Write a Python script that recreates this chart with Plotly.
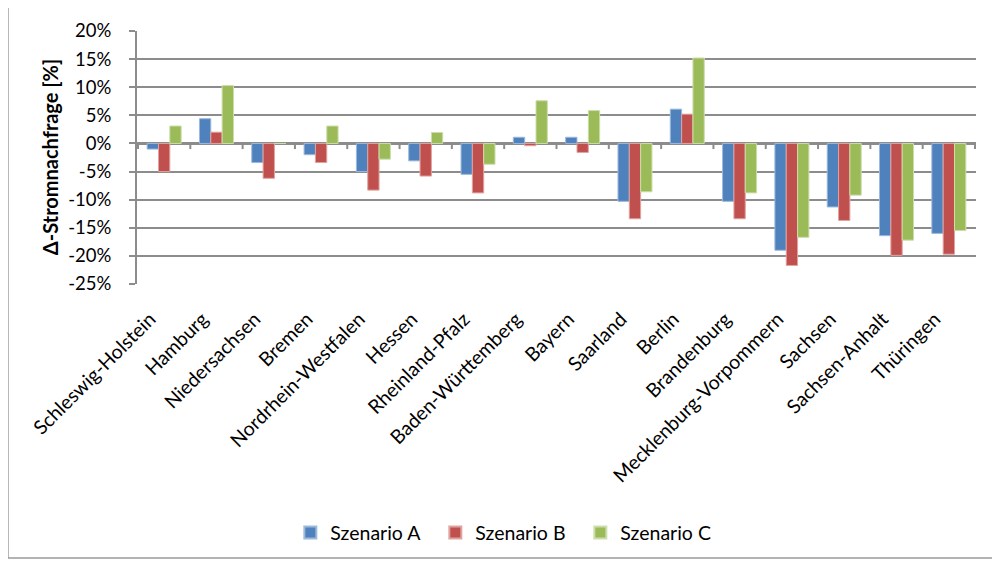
import plotly.graph_objects as go

laender = ["Schleswig-Holstein", "Hamburg", "Niedersachsen", "Bremen", "Nordrhein-Westfalen",
           "Hessen", "Rheinland-Pfalz", "Baden-Württemberg", "Bayern", "Saarland", "Berlin",
           "Brandenburg", "Mecklenburg-Vorpommern", "Sachsen", "Sachsen-Anhalt", "Thüringen"]
szenario_a = [-1.0, 4.4, -3.4, -2.0, -5.0, -3.1, -5.5, 1.1, 1.1, -10.3, 6.1, -10.3, -19.0, -11.3, -16.4, -16.0]
szenario_b = [-5.0, 2.0, -6.2, -3.4, -8.3, -5.8, -8.8, -0.4, -1.6, -13.4, 5.2, -13.4, -21.7, -13.7, -19.9, -19.7]
szenario_c = [3.1, 10.3, 0.0, 3.1, -2.8, 1.95, -3.7, 7.6, 5.85, -8.6, 15.2, -8.8, -16.7, -9.2, -17.2, -15.5]
y_ticks = [20, 15, 10, 5, 0, -5, -10, -15, -20, -25]

series = [("Szenario A", szenario_a, "#4F81BD", "#9DB9DB"),
          ("Szenario B", szenario_b, "#C0504D", "#E0A3A1"),
          ("Szenario C", szenario_c, "#9BBB59", "#CDDDAB")]

font = "Lato, 'Open Sans', sans-serif"
fig = go.Figure()
for name, vals, col, edge in series:
    fig.add_trace(go.Bar(name=name, x=laender, y=vals, marker=dict(color=col, line=dict(color=edge, width=1))))

grid = "#8C8C8C"
fig.update_layout(
    width=992, height=554,
    paper_bgcolor="white", plot_bgcolor="white",
    margin=dict(l=129, r=24, t=23, b=277),
    barmode="group", bargap=0.35, bargroupgap=0,
    font=dict(family=font, size=19, color="black"),
    showlegend=True,
    legend=dict(orientation="h", x=0.442, xanchor="center", y=-0.976, yanchor="middle",
                font=dict(size=19.5), itemsizing="constant", traceorder="normal",
                entrywidth=100, entrywidthmode="pixels"),
)
fig.update_xaxes(type="category", showgrid=False, showline=False, ticks="", tickangle=-45,
                 tickfont=dict(size=19.5), ticklabelstandoff=19, ticklabelshift=-14,
                 automargin=False)
fig.update_yaxes(range=[-25, 20], tickvals=y_ticks, ticktext=[f"{v}%" for v in y_ticks],
                 showgrid=True, gridcolor=grid, gridwidth=2, zeroline=True, zerolinecolor=grid,
                 zerolinewidth=3, showline=True, linecolor=grid, linewidth=2,
                 ticks="outside", ticklen=6, tickcolor=grid, tickwidth=2,
                 ticklabelstandoff=14, tickfont=dict(size=18.5), automargin=False)

# tick marks on zero line at category boundaries
for k in range(len(laender) + 1):
    fig.add_shape(type="line", xref="x", yref="y", x0=k - 0.5, x1=k - 0.5, y0=0, y1=-1.0,
                  line=dict(color=grid, width=2))

fig.add_annotation(text="<b>Δ-Stromnachfrage [%]</b>", xref="paper", yref="paper",
                   x=-0.104, y=0.5, xanchor="center", yanchor="middle", textangle=-90,
                   showarrow=False, font=dict(size=20))
fig.add_shape(type="rect", xref="paper", yref="paper", x0=-0.1538, x1=1.2, y0=-1.083, y1=1.5,
              line=dict(color="#9A9A9A", width=1.5), fillcolor="rgba(0,0,0,0)", layer="below")

fig.write_html("out.html")
